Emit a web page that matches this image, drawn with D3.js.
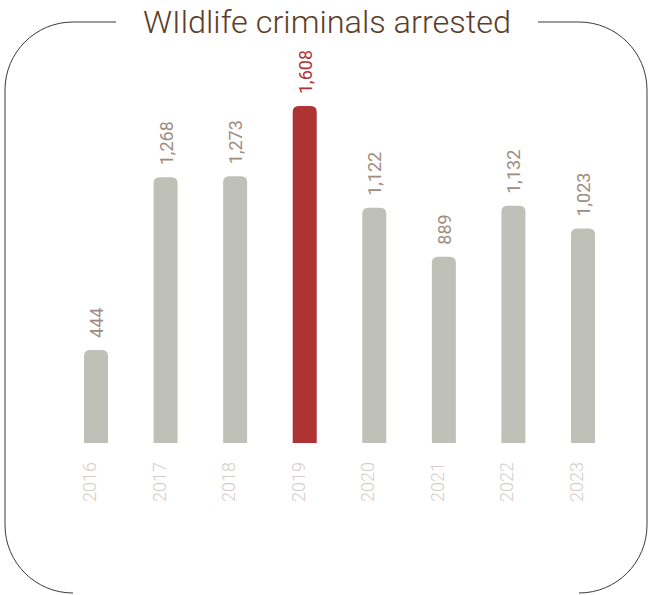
<!DOCTYPE html>
<html>
<head>
<meta charset="utf-8">
<script src="https://cdn.jsdelivr.net/npm/d3@7"></script>
<style>
  html, body { margin: 0; padding: 0; background: #fff; }
  svg { display: block; }
</style>
</head>
<body>
<svg id="chart" width="649" height="595"></svg>
<script>
const title = "WIldlife criminals arrested";
const years = ["2016", "2017", "2018", "2019", "2020", "2021", "2022", "2023"];
const arrests = [444, 1268, 1273, 1608, 1122, 889, 1132, 1023];
const highlightYear = "2019";

const W = 649, H = 595;
const svg = d3.select("#chart");
const FONT = "Roboto, 'Helvetica Neue', Arial, sans-serif";

const colors = {
  bar: "#bfc1b8",
  highlight: "#b03334",
  valueText: "#9d8c81",
  yearText: "#d5ccc8",
  title: "#5b3e2a",
  frame: "#3a3a3a"
};

// Frame: rounded box with a gap for the title and no straight bottom segment
const fx0 = 5, fx1 = 647, fy0 = 22, fy1 = 593, r = 68;
const gapL = 116, gapR = 538;
const k = 0.5523 * r;
const framePath = d3.path();
framePath.moveTo(gapL, fy0);
framePath.lineTo(fx0 + r, fy0);
framePath.bezierCurveTo(fx0 + r - k, fy0, fx0, fy0 + r - k, fx0, fy0 + r);
framePath.lineTo(fx0, fy1 - r);
framePath.bezierCurveTo(fx0, fy1 - r + k, fx0 + r - k, fy1, fx0 + r, fy1);
framePath.moveTo(fx1 - r, fy1);
framePath.bezierCurveTo(fx1 - r + k, fy1, fx1, fy1 - r + k, fx1, fy1 - r);
framePath.lineTo(fx1, fy0 + r);
framePath.bezierCurveTo(fx1, fy0 + r - k, fx1 - r + k, fy0, fx1 - r, fy0);
framePath.lineTo(gapR, fy0);
svg.append("path")
  .attr("d", framePath.toString())
  .attr("fill", "none")
  .attr("stroke", colors.frame)
  .attr("stroke-width", 1);

// Title
svg.append("text")
  .attr("x", 327)
  .attr("y", 33)
  .attr("text-anchor", "middle")
  .attr("font-family", FONT)
  .attr("font-weight", 300)
  .attr("font-size", 32)
  .attr("fill", colors.title)
  .attr("textLength", 368)
  .attr("lengthAdjust", "spacingAndGlyphs")
  .text(title);

// Scales
const step = (583 - 96) / 7;
const x = d3.scaleBand()
  .domain(years)
  .range([96 - step / 2, 583 + step / 2])
  .paddingInner(1 - 24 / step)
  .paddingOuter((1 - 24 / step) / 2);

const y = d3.scaleLinear()
  .domain([0, 1608])
  .range([443, 106]);

const data = years.map((yr, i) => ({ year: yr, value: arrests[i] }));

function barPath(d) {
  const x0 = x(d.year), w = x.bandwidth();
  const top = y(d.value), base = y(0);
  const rr = 6;
  const p = d3.path();
  p.moveTo(x0, base);
  p.lineTo(x0, top + rr);
  p.quadraticCurveTo(x0, top, x0 + rr, top);
  p.lineTo(x0 + w - rr, top);
  p.quadraticCurveTo(x0 + w, top, x0 + w, top + rr);
  p.lineTo(x0 + w, base);
  p.closePath();
  return p.toString();
}

svg.append("g").selectAll("path")
  .data(data)
  .join("path")
  .attr("d", barPath)
  .attr("fill", d => d.year === highlightYear ? colors.highlight : colors.bar);

// Value labels
const fmt = d3.format(",");
svg.append("g").selectAll("text")
  .data(data)
  .join("text")
  .attr("transform", d => `translate(${x(d.year) + x.bandwidth() / 2},${y(d.value) - 12}) rotate(-90)`)
  .attr("dy", 7)
  .attr("text-anchor", "start")
  .attr("font-family", FONT)
  .attr("font-weight", 400)
  .attr("font-size", 18)
  .attr("fill", d => d.year === highlightYear ? colors.highlight : colors.valueText)
  .text(d => fmt(d.value));

// Year labels
svg.append("g").selectAll("text")
  .data(data)
  .join("text")
  .attr("transform", d => `translate(${x(d.year) + x.bandwidth() / 2},${y(0) + 19}) rotate(-90)`)
  .attr("text-anchor", "end")
  .attr("font-family", FONT)
  .attr("font-weight", 300)
  .attr("font-size", 18)
  .attr("fill", colors.yearText)
  .text(d => d.year);
</script>
</body>
</html>
